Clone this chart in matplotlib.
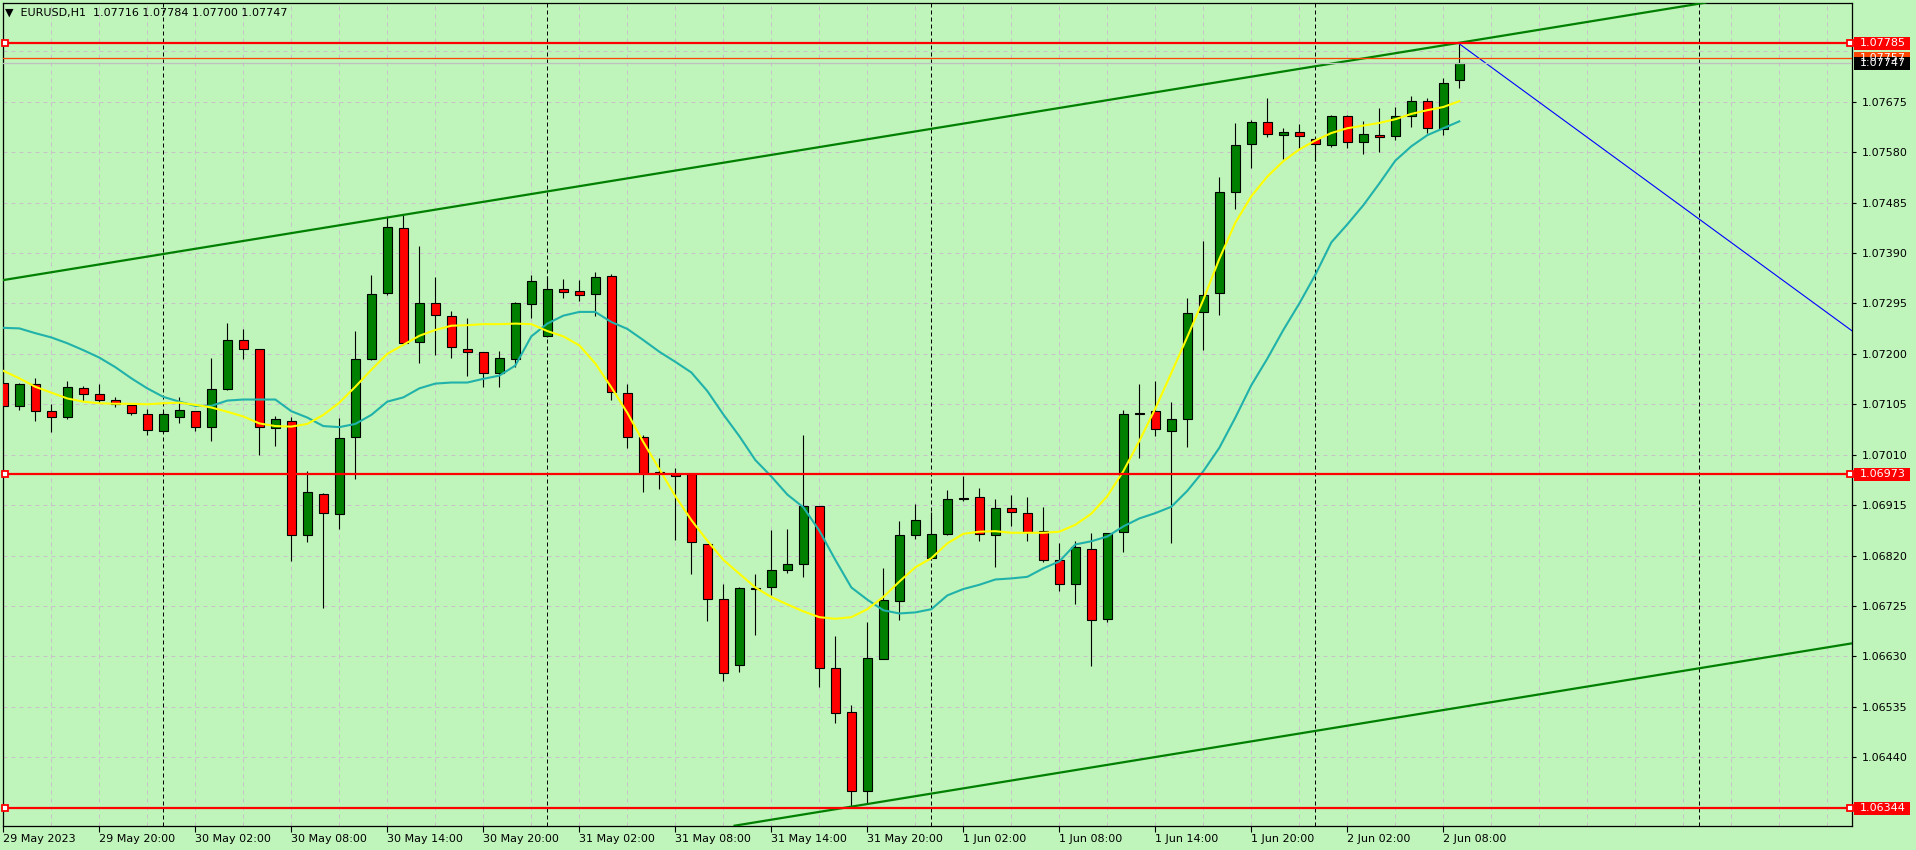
import matplotlib.pyplot as plt
from matplotlib.transforms import blended_transform_factory
from matplotlib.patches import Rectangle

plt.rcParams['font.family'] = ['DejaVu Sans']
plt.rcParams['font.size'] = 8

# EURUSD H1, 29 May 14:00 .. 2 Jun 09:00 (92 bars)
opens = [1.07146, 1.07101, 1.07144, 1.07092, 1.07082, 1.07135, 1.07124, 1.07114, 1.07103, 1.07086,
         1.07054, 1.07082, 1.07092, 1.07062, 1.07133, 1.07227, 1.07209, 1.07060, 1.07074, 1.06858,
         1.06936, 1.06898, 1.07043, 1.07190, 1.07315, 1.07437, 1.07222, 1.07295, 1.07271, 1.07210,
         1.07203, 1.07164, 1.07190, 1.07293, 1.07233, 1.07323, 1.07319, 1.07312, 1.07346, 1.07127,
         1.07043, 1.06978, 1.06974, 1.06974, 1.06841, 1.06738, 1.06614, 1.06758, 1.06761, 1.06793,
         1.06804, 1.06913, 1.06609, 1.06526, 1.06377, 1.06626, 1.06735, 1.06858, 1.06815, 1.06860,
         1.06928, 1.06930, 1.06858, 1.06910, 1.06900, 1.06867, 1.06811, 1.06767, 1.06833, 1.06700,
         1.06865, 1.07087, 1.07092, 1.07055, 1.07077, 1.07279, 1.07314, 1.07504, 1.07595, 1.07637,
         1.07612, 1.07618, 1.07605, 1.07593, 1.07649, 1.07600, 1.07612, 1.07610, 1.07649, 1.07676,
         1.07623, 1.07716]
highs = [1.07187, 1.07146, 1.07154, 1.07105, 1.07149, 1.07139, 1.07144, 1.07118, 1.07104, 1.07097,
         1.07090, 1.07118, 1.07093, 1.07192, 1.07258, 1.07247, 1.07210, 1.07083, 1.07081, 1.06979,
         1.06937, 1.07079, 1.07243, 1.07349, 1.07458, 1.07461, 1.07403, 1.07345, 1.07280, 1.07267,
         1.07204, 1.07205, 1.07297, 1.07349, 1.07347, 1.07341, 1.07339, 1.07354, 1.07351, 1.07143,
         1.07048, 1.07004, 1.06985, 1.06975, 1.06842, 1.06767, 1.06760, 1.06786, 1.06868, 1.06870,
         1.07047, 1.06914, 1.06668, 1.06539, 1.06695, 1.06797, 1.06886, 1.06917, 1.06902, 1.06943,
         1.06969, 1.06948, 1.06926, 1.06935, 1.06930, 1.06911, 1.06843, 1.06848, 1.06862, 1.06863,
         1.07094, 1.07143, 1.07149, 1.07110, 1.07305, 1.07412, 1.07534, 1.07635, 1.07641, 1.07682,
         1.07626, 1.07633, 1.07607, 1.07650, 1.07650, 1.07638, 1.07663, 1.07665, 1.07686, 1.07682,
         1.07719, 1.07784]
lows = [1.07100, 1.07095, 1.07074, 1.07053, 1.07078, 1.07112, 1.07107, 1.07099, 1.07085, 1.07048,
        1.07053, 1.07070, 1.07055, 1.07036, 1.07131, 1.07190, 1.07009, 1.07027, 1.06810, 1.06845,
        1.06721, 1.06870, 1.06965, 1.07188, 1.07311, 1.07217, 1.07182, 1.07198, 1.07193, 1.07159,
        1.07138, 1.07138, 1.07176, 1.07268, 1.07232, 1.07305, 1.07299, 1.07271, 1.07113, 1.07022,
        1.06940, 1.06945, 1.06850, 1.06786, 1.06697, 1.06583, 1.06600, 1.06670, 1.06745, 1.06788,
        1.06779, 1.06572, 1.06505, 1.06344, 1.06353, 1.06625, 1.06699, 1.06851, 1.06812, 1.06859,
        1.06922, 1.06848, 1.06798, 1.06876, 1.06848, 1.06808, 1.06754, 1.06729, 1.06612, 1.06695,
        1.06826, 1.07003, 1.07046, 1.06843, 1.07025, 1.07208, 1.07274, 1.07472, 1.07551, 1.07608,
        1.07568, 1.07585, 1.07563, 1.07590, 1.07588, 1.07576, 1.07581, 1.07602, 1.07628, 1.07616,
        1.07613, 1.07700]
closes = [1.07101, 1.07144, 1.07092, 1.07082, 1.07137, 1.07124, 1.07114, 1.07106, 1.07088, 1.07056,
          1.07086, 1.07094, 1.07062, 1.07133, 1.07227, 1.07209, 1.07062, 1.07077, 1.06858, 1.06939,
          1.06900, 1.07041, 1.07190, 1.07312, 1.07439, 1.07220, 1.07295, 1.07273, 1.07212, 1.07203,
          1.07164, 1.07192, 1.07295, 1.07337, 1.07323, 1.07317, 1.07310, 1.07345, 1.07129, 1.07043,
          1.06976, 1.06976, 1.06969, 1.06846, 1.06738, 1.06598, 1.06759, 1.06759, 1.06793, 1.06804,
          1.06913, 1.06609, 1.06523, 1.06376, 1.06628, 1.06737, 1.06858, 1.06887, 1.06860, 1.06926,
          1.06927, 1.06860, 1.06909, 1.06902, 1.06865, 1.06811, 1.06767, 1.06836, 1.06698, 1.06862,
          1.07087, 1.07088, 1.07058, 1.07077, 1.07277, 1.07310, 1.07504, 1.07593, 1.07637, 1.07614,
          1.07618, 1.07610, 1.07595, 1.07649, 1.07600, 1.07614, 1.07608, 1.07649, 1.07676, 1.07625,
          1.07710, 1.07747]

ma_fast = [1.07168, 1.07154, 1.07138, 1.07127, 1.07116, 1.07110, 1.07107, 1.07106, 1.07106, 1.07105,
           1.07107, 1.07108, 1.07104, 1.07099, 1.07091, 1.07082, 1.07069, 1.07064, 1.07063, 1.07068,
           1.07085, 1.07108, 1.07138, 1.07170, 1.07200, 1.07217, 1.07234, 1.07245, 1.07253, 1.07254,
           1.07256, 1.07256, 1.07257, 1.07256, 1.07243, 1.07233, 1.07216, 1.07182, 1.07137, 1.07089,
           1.07034, 1.06983, 1.06932, 1.06887, 1.06848, 1.06812, 1.06786, 1.06760, 1.06742, 1.06728,
           1.06715, 1.06704, 1.06701, 1.06704, 1.06719, 1.06742, 1.06771, 1.06798, 1.06815, 1.06843,
           1.06861, 1.06865, 1.06866, 1.06863, 1.06863, 1.06863, 1.06865, 1.06878, 1.06899, 1.06932,
           1.06979, 1.07036, 1.07097, 1.07164, 1.07232, 1.07302, 1.07379, 1.07447, 1.07497, 1.07534,
           1.07563, 1.07585, 1.07602, 1.07616, 1.07625, 1.07630, 1.07635, 1.07642, 1.07652, 1.07659,
           1.07665, 1.07676]
ma_slow = [1.07249, 1.07248, 1.07239, 1.07231, 1.07220, 1.07207, 1.07193, 1.07175, 1.07154, 1.07135,
           1.07119, 1.07110, 1.07102, 1.07102, 1.07112, 1.07114, 1.07114, 1.07114, 1.07092, 1.07080,
           1.07064, 1.07062, 1.07068, 1.07085, 1.07110, 1.07118, 1.07135, 1.07144, 1.07146, 1.07146,
           1.07153, 1.07159, 1.07178, 1.07233, 1.07257, 1.07272, 1.07279, 1.07279, 1.07260, 1.07247,
           1.07226, 1.07204, 1.07185, 1.07165, 1.07130, 1.07086, 1.07045, 1.07000, 1.06969, 1.06935,
           1.06911, 1.06867, 1.06812, 1.06760, 1.06737, 1.06717, 1.06711, 1.06713, 1.06719, 1.06745,
           1.06757, 1.06765, 1.06775, 1.06777, 1.06780, 1.06796, 1.06809, 1.06841, 1.06847, 1.06856,
           1.06875, 1.06890, 1.06900, 1.06912, 1.06942, 1.06979, 1.07023, 1.07080, 1.07141, 1.07191,
           1.07245, 1.07295, 1.07349, 1.07410, 1.07444, 1.07480, 1.07521, 1.07564, 1.07591, 1.07612,
           1.07625, 1.07638]

time_labels = ['29 May 2023', '29 May 20:00', '30 May 02:00', '30 May 08:00', '30 May 14:00',
               '30 May 20:00', '31 May 02:00', '31 May 08:00', '31 May 14:00', '31 May 20:00',
               '1 Jun 02:00', '1 Jun 08:00', '1 Jun 14:00', '1 Jun 20:00', '2 Jun 02:00', '2 Jun 08:00']
day_breaks = [10, 34, 58, 82, 106]

price_ticks = [1.06440, 1.06535, 1.06630, 1.06725, 1.06820, 1.06915, 1.07010,
               1.07105, 1.07200, 1.07295, 1.07390, 1.07485, 1.07580, 1.07675]
grid_prices = [1.06345] + price_ticks + [1.07770]

levels = [1.07785, 1.06973, 1.06344]
ask, bid = 1.07757, 1.07747
channel_top = [(0, 1.07339), (91, 1.07786)]
channel_bottom = [(54, 1.06352), (91, 1.06534)]
blue_line = [(91, 1.07784), (115.56, 1.07243)]

bg = '#bff4ba'
fig = plt.figure(figsize=(19.16, 8.5), dpi=100, facecolor=bg)
ax = fig.add_axes([2.7 / 1916, 1 - 825.7 / 850, 1849.6 / 1916, 823 / 850])
ax.set_facecolor(bg)
n = len(opens)
ax.set_xlim(-0.0375, 115.56)
ax.set_ylim(1.063112, 1.078615)

# grid
for p in grid_prices:
    ax.axhline(p, color='#c9c1c9', lw=0.72, ls=(0, (4, 4)), zorder=0.5)
for i in range(0, 116, 3):
    ax.axvline(i, color='#c9c1c9', lw=0.72, ls=(0, (4, 4)), zorder=0.5)
for d in day_breaks:
    ax.axvline(d, color='black', lw=0.72, ls=(0, (4, 3)), zorder=0.6)

# candles
xs = list(range(n))
ax.vlines(xs, lows, highs, color='black', lw=0.8, zorder=2)
cols = ['#008000' if c >= o else '#ff0000' for o, c in zip(opens, closes)]
bottoms = [min(o, c) for o, c in zip(opens, closes)]
heights = [max(abs(c - o), 0.000005) for o, c in zip(opens, closes)]
ax.bar(xs, heights, bottom=bottoms, width=0.6, color=cols, edgecolor='black', linewidth=0.8, zorder=3)

# moving averages
ax.plot(xs, ma_slow, color='#20b2aa', lw=1.5, zorder=4)
ax.plot(xs, ma_fast, color='#ffff00', lw=1.5, zorder=4)

# objects
ax.axline(channel_top[0], channel_top[1], color='#008000', lw=1.6, zorder=5)
ax.axline(channel_bottom[0], channel_bottom[1], color='#008000', lw=1.6, zorder=5)
ax.plot([blue_line[0][0], blue_line[1][0]], [blue_line[0][1], blue_line[1][1]],
        color='#0000ff', lw=0.8, zorder=5)
ax.axhline(bid, color='#c0c0c0', lw=0.9, zorder=5)
ax.axhline(ask, color='#ff4500', lw=0.9, zorder=5)
trans = blended_transform_factory(ax.transAxes, ax.transData)
for p in levels:
    ax.axhline(p, color='#ff0000', lw=1.6, zorder=6)
    ax.plot([0.0013, 0.9985], [p, p], transform=trans, ls='none', marker='s', ms=4,
            mfc='white', mec='#ff0000', mew=1.3, zorder=7, clip_on=False)

# price boxes on the right scale
def price_box(p, fc, tc):
    h = 0.00025
    ax.add_patch(Rectangle((1.0009, p - h / 2), 0.0303, h, transform=trans, fc=fc, ec='none',
                           clip_on=False, zorder=10))
    ax.text(1.0038, p, f'{p:.5f}', transform=trans, color=tc, va='center', ha='left',
            fontsize=8, clip_on=False, zorder=11)

price_box(ask, '#ff4500', 'white')
price_box(levels[0], '#ff0000', 'white')
price_box(bid, 'black', 'white')
price_box(levels[1], '#ff0000', 'white')
price_box(levels[2], '#ff0000', 'white')

# axes
for s in ax.spines.values():
    s.set_color('black')
    s.set_linewidth(0.9)
ax.yaxis.tick_right()
ax.set_yticks(price_ticks)
ax.set_yticklabels([f'{p:.5f}' for p in price_ticks])
ax.tick_params(axis='y', length=3, width=0.8, pad=4, labelsize=8, colors='black')
ax.set_xticks(list(range(0, n, 6)))
ax.set_xticklabels(time_labels, ha='left')
ax.tick_params(axis='x', length=4, width=0.8, pad=2, labelsize=8, colors='black')

fig.text(5 / 1916, 1 - 12.7 / 850, '\u25bc  EURUSD,H1  %.5f %.5f %.5f %.5f' % (opens[-1], highs[-1], lows[-1], closes[-1]),
         fontsize=8, va='center', ha='left', color='black')

fig.savefig('out.png', dpi=100, facecolor=bg)
